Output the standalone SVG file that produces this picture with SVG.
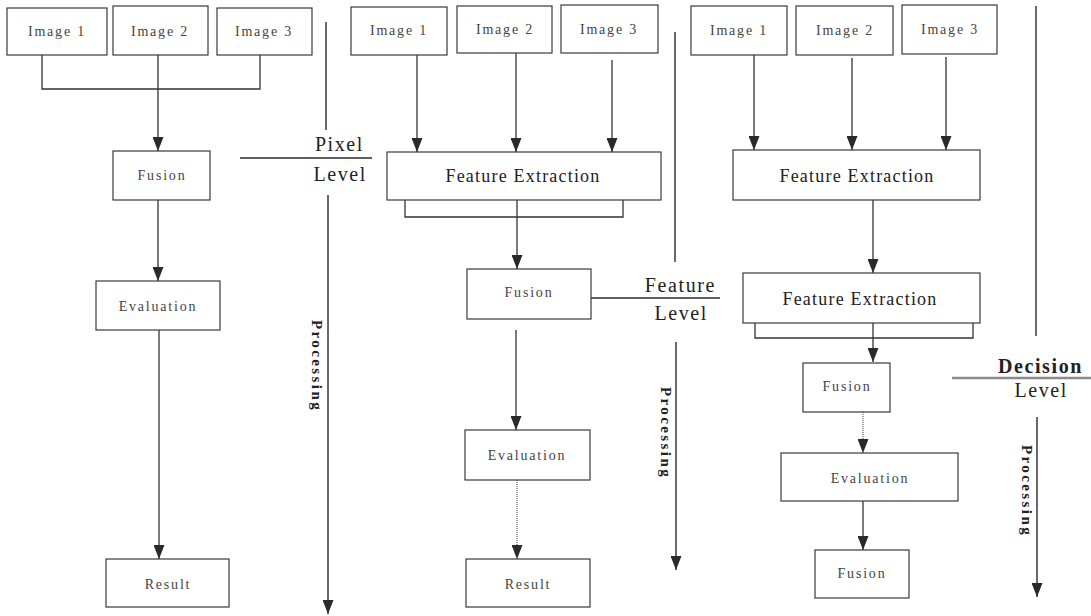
<svg xmlns="http://www.w3.org/2000/svg" width="1091" height="616" viewBox="0 0 1091 616">
  <defs>
    <!-- solid downward arrowhead, drawn along +x so orient="auto" turns it with the line -->
    <marker id="arrow" viewBox="0 0 14 11" refX="14" refY="5.5" markerWidth="14" markerHeight="11" markerUnits="userSpaceOnUse" orient="auto">
      <path d="M0,0 L14,5.5 L0,11 Z" fill="#2a2a2a"/>
    </marker>
    <style>
      .box { fill: #ffffff; stroke: #3a3a3a; stroke-width: 1.2; }
      .lbl { font-family: "Liberation Serif", "Times New Roman", serif; font-size: 14px; letter-spacing: 1.8px; fill: #444; text-anchor: middle; }
      .big { font-family: "Liberation Serif", "Times New Roman", serif; font-size: 18px; letter-spacing: 1.2px; fill: #222; text-anchor: middle; }
      .lvl { font-family: "Liberation Serif", "Times New Roman", serif; font-size: 20px; letter-spacing: 1.6px; fill: #222; text-anchor: end; }
      .proc { font-family: "Liberation Serif", "Times New Roman", serif; font-size: 15px; font-weight: bold; letter-spacing: 2.4px; fill: #222; }
      .wire { fill: none; stroke: #333; stroke-width: 1.3; }
      .faint { fill: none; stroke: #777; stroke-width: 1.4; stroke-dasharray: 1 1; }
      .axis { fill: none; stroke: #2a2a2a; stroke-width: 1.4; }
    </style>
  </defs>

  <!-- connectors and level axes -->
  <g id="connectors">
    <!-- pixel level column -->
    <path class="wire" d="M42,55 V89 H260 V55"/>
    <path class="wire" d="M158,55 V151" marker-end="url(#arrow)"/>
    <path class="wire" d="M158,200 V281" marker-end="url(#arrow)"/>
    <path class="wire" d="M159,330 V559" marker-end="url(#arrow)"/>

    <!-- feature level column -->
    <path class="wire" d="M417,55 V152" marker-end="url(#arrow)"/>
    <path class="wire" d="M516,53 V152" marker-end="url(#arrow)"/>
    <path class="wire" d="M612,60 V152" marker-end="url(#arrow)"/>
    <path class="wire" d="M405,200 V217 H623 V200"/>
    <path class="wire" d="M517,200 V269" marker-end="url(#arrow)"/>
    <path class="wire" d="M516,330 V430" marker-end="url(#arrow)"/>
    <path class="faint" d="M517,480 V559" marker-end="url(#arrow)"/>

    <!-- decision level column -->
    <path class="wire" d="M754,55 V150" marker-end="url(#arrow)"/>
    <path class="wire" d="M852,58 V150" marker-end="url(#arrow)"/>
    <path class="wire" d="M946,57 V150" marker-end="url(#arrow)"/>
    <path class="wire" d="M873,200 V273" marker-end="url(#arrow)"/>
    <path class="wire" d="M755,323 V338 H973 V323"/>
    <path class="wire" d="M873,323 V362" marker-end="url(#arrow)"/>
    <path class="faint" d="M863,412 V453" marker-end="url(#arrow)"/>
    <path class="wire" d="M863,501 V550" marker-end="url(#arrow)"/>

    <!-- level separators -->
    <path class="axis" d="M326,22 V130"/>
    <path class="axis" d="M240,158 H372"/>
    <path class="axis" d="M328,195 V614" marker-end="url(#arrow)"/>

    <path class="axis" d="M675,32 V262"/>
    <path class="axis" d="M587,298 H720"/>
    <path class="axis" d="M676,342 V570" marker-end="url(#arrow)"/>

    <path class="axis" d="M1036,6 V336"/>
    <path fill="none" stroke="#8a8a8a" stroke-width="2.6" d="M952,378 H1091"/>
    <path class="axis" d="M1037,417 V597" marker-end="url(#arrow)"/>
  </g>

  <!-- pixel level nodes -->
  <g id="p-img1"><rect class="box" x="7" y="8" width="100" height="47"/><text class="lbl" x="57" y="36">Image 1</text></g>
  <g id="p-img2"><rect class="box" x="113" y="6" width="95" height="49"/><text class="lbl" x="160" y="36">Image 2</text></g>
  <g id="p-img3"><rect class="box" x="217" y="8" width="95" height="47"/><text class="lbl" x="264" y="36">Image 3</text></g>
  <g id="p-fusion"><rect class="box" x="113" y="151" width="97" height="49"/><text class="lbl" x="162" y="180">Fusion</text></g>
  <g id="p-eval"><rect class="box" x="96" y="281" width="124" height="49"/><text class="lbl" x="158" y="311">Evaluation</text></g>
  <g id="p-result"><rect class="box" x="106" y="559" width="123" height="48"/><text class="lbl" x="168" y="589">Result</text></g>

  <!-- feature level nodes -->
  <g id="f-img1"><rect class="box" x="351" y="7" width="96" height="48"/><text class="lbl" x="399" y="35">Image 1</text></g>
  <g id="f-img2"><rect class="box" x="457" y="6" width="95" height="47"/><text class="lbl" x="505" y="34">Image 2</text></g>
  <g id="f-img3"><rect class="box" x="561" y="5" width="97" height="48"/><text class="lbl" x="609" y="34">Image 3</text></g>
  <g id="f-extract"><rect class="box" x="387" y="152" width="274" height="48"/><text class="big" x="523" y="182">Feature Extraction</text></g>
  <g id="f-fusion"><rect class="box" x="467" y="269" width="124" height="50"/><text class="lbl" x="529" y="297">Fusion</text></g>
  <g id="f-eval"><rect class="box" x="465" y="430" width="125" height="50"/><text class="lbl" x="527" y="460">Evaluation</text></g>
  <g id="f-result"><rect class="box" x="466" y="559" width="124" height="48"/><text class="lbl" x="528" y="589">Result</text></g>

  <!-- decision level nodes -->
  <g id="d-img1"><rect class="box" x="691" y="6" width="96" height="49"/><text class="lbl" x="739" y="35">Image 1</text></g>
  <g id="d-img2"><rect class="box" x="796" y="6" width="97" height="49"/><text class="lbl" x="845" y="35">Image 2</text></g>
  <g id="d-img3"><rect class="box" x="902" y="5" width="95" height="49"/><text class="lbl" x="950" y="34">Image 3</text></g>
  <g id="d-extract1"><rect class="box" x="733" y="150" width="247" height="50"/><text class="big" x="857" y="182">Feature Extraction</text></g>
  <g id="d-extract2"><rect class="box" x="743" y="273" width="237" height="50"/><text class="big" x="860" y="305">Feature Extraction</text></g>
  <g id="d-fusion1"><rect class="box" x="803" y="363" width="87" height="49"/><text class="lbl" x="847" y="391">Fusion</text></g>
  <g id="d-eval"><rect class="box" x="781" y="453" width="177" height="48"/><text class="lbl" x="870" y="483">Evaluation</text></g>
  <g id="d-fusion2"><rect class="box" x="815" y="550" width="94" height="48"/><text class="lbl" x="862" y="578">Fusion</text></g>

  <!-- level labels -->
  <g id="pixel-level">
    <text class="lvl" x="364" y="151">Pixel</text>
    <text class="lvl" x="367" y="181">Level</text>
    <text class="proc" transform="translate(312,320) rotate(90)">Processing</text>
  </g>
  <g id="feature-level">
    <text class="lvl" x="716" y="292">Feature</text>
    <text class="lvl" x="708" y="320">Level</text>
    <text class="proc" transform="translate(661,387) rotate(90)">Processing</text>
  </g>
  <g id="decision-level">
    <text class="lvl" x="1083" y="373" font-weight="bold" font-size="17" letter-spacing="0.8">Decision</text>
    <text class="lvl" x="1068" y="397" font-size="19" letter-spacing="1.2">Level</text>
    <text class="proc" transform="translate(1022,445) rotate(90)">Processing</text>
  </g>
</svg>
